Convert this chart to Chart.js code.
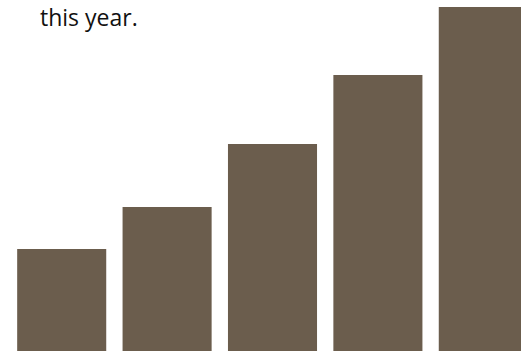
<!DOCTYPE html>
<html>
<head>
<meta charset="utf-8">
<script src="https://cdn.jsdelivr.net/npm/chart.js@4"></script>
<style>
  html, body { margin: 0; padding: 0; background: #fff; overflow: hidden; width: 521px; height: 351px; }
  .note {
    position: absolute; left: 40px; top: 2px; line-height: 30px;
    font-family: "Open Sans", Lato, sans-serif; font-size: 23px; color: #111;
  }
  .chart-box { position: absolute; left: 9px; top: 0; width: 527px; height: 351px; }
</style>
</head>
<body>
<div class="note">this year.</div>
<div class="chart-box"><canvas id="myChart"></canvas></div>
<script>
  // Категории и значения
  const categories = ['1', '2', '3', '4', '5'];
  const values = [10.2, 14.4, 20.7, 27.6, 34.4];
  const yMax = 35.1;

  const ctx = document.getElementById('myChart');

  new Chart(ctx, {
    type: 'bar',
    data: {
      labels: categories,
      datasets: [{
        data: values,
        backgroundColor: '#6b5d4d',
        borderWidth: 0,
        barPercentage: 0.845,
        categoryPercentage: 1
      }]
    },
    options: {
      responsive: true,
      maintainAspectRatio: false,
      animation: false,
      layout: { padding: 0 },
      scales: {
        x: { display: false },
        y: { display: false, min: 0, max: yMax }
      },
      plugins: {
        legend: { display: false },
        tooltip: { enabled: false }
      }
    }
  });
</script>
</body>
</html>
